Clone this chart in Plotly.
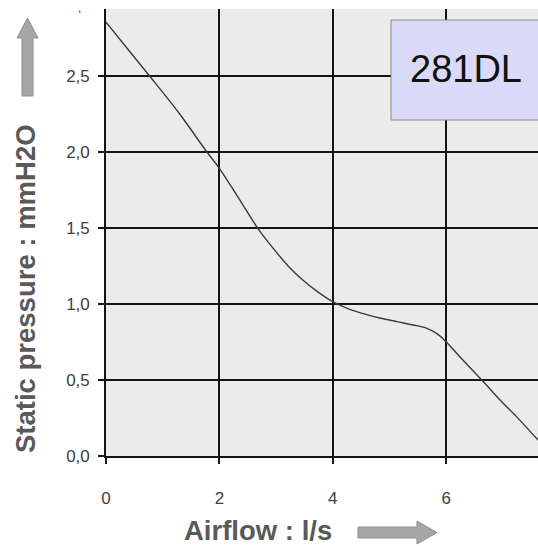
import plotly.graph_objects as go

# ---- data ----
airflow = [0, 0.4, 0.78, 1.3, 1.78, 2.0, 2.35, 2.69, 2.95, 3.25, 3.45, 3.7, 4.0, 4.3,
           4.6, 4.83, 5.13, 5.42, 5.66, 5.83, 6.0, 6.24, 6.63, 6.95, 7.24, 7.62]
pressure = [2.855, 2.67, 2.495, 2.25, 2.0, 1.893, 1.69, 1.491, 1.366, 1.235, 1.165, 1.09,
            1.015, 0.965, 0.93, 0.908, 0.884, 0.862, 0.840, 0.807, 0.752, 0.653, 0.5,
            0.368, 0.259, 0.105]
x_ticks = [0, 2, 4, 6]
y_ticks = [0, 0.5, 1.0, 1.5, 2.0, 2.5]
model_label = "281DL"
x_title = "Airflow : l/s"
y_title = "Static pressure : mmH2O"

W, H = 538, 546
L, R, T, B = 106, 0, 9, 90
PW, PH = W - L - R, H - T - B


def px(x):
    return (x - L) / PW


def py(y):
    return (H - B - y) / PH


fig = go.Figure()
fig.add_trace(go.Scatter(x=airflow, y=pressure, mode="lines",
                         line=dict(color="#3a3a3a", width=1.4, shape="spline", smoothing=0.9),
                         hoverinfo="skip", showlegend=False))

tickfont = dict(family="Liberation Sans, Arial, sans-serif", size=17, color="#404040")
grid = "#141414"
gw = 1.6

fig.update_layout(
    width=W, height=H,
    margin=dict(l=L, r=R, t=T, b=B, pad=0),
    paper_bgcolor="white", plot_bgcolor="#ebebeb",
    separators=",.",
    xaxis=dict(range=[0, 7.62], tickvals=x_ticks, showgrid=True, gridcolor=grid, gridwidth=gw,
               zeroline=False, showline=True, linecolor=grid, linewidth=gw,
               ticks="outside", ticklen=6, tickcolor=grid, tickwidth=gw,
               tickfont=tickfont, ticklabelstandoff=20),
    yaxis=dict(range=[0, 2.941], tickvals=y_ticks, tickformat=".1f", showgrid=True,
               gridcolor=grid, gridwidth=gw, zeroline=False, showline=True, linecolor=grid,
               linewidth=gw, ticks="outside", ticklen=6, tickcolor=grid, tickwidth=gw,
               tickfont=tickfont, ticklabelstandoff=5),
)

title_font = dict(family="Liberation Sans, Arial, sans-serif", size=27.5, color="#595959")

# model box
fig.add_shape(type="rect", xref="paper", yref="paper",
              x0=px(391), x1=px(560), y0=py(120), y1=py(20),
              fillcolor="#dadaf8", line=dict(color="#8a8a8a", width=1))
fig.add_annotation(xref="paper", yref="paper", x=px(466), y=py(69), text=model_label,
                   showarrow=False, xanchor="center", yanchor="middle",
                   font=dict(family="Liberation Sans, Arial", size=38, color="#111111"))

# axis titles
fig.add_annotation(xref="paper", yref="paper", x=px(258), y=py(530), text="<b>%s</b>" % x_title,
                   showarrow=False, xanchor="center", yanchor="middle", font=title_font)
fig.add_annotation(xref="paper", yref="paper", x=px(25), y=py(289), text="<b>%s</b>" % y_title,
                   showarrow=False, xanchor="center", yanchor="middle", textangle=-90,
                   font=title_font)

# clipped top tick-label remnant
fig.add_annotation(xref="paper", yref="paper", x=px(79), y=py(-1), text=",",
                   showarrow=False, xanchor="center", yanchor="top",
                   font=dict(family="Liberation Sans, Arial", size=12, color="#404040"))


def path(points):
    s = "M " + " L ".join("%f,%f" % (px(a), py(b)) for a, b in points) + " Z"
    return s


up_arrow = [(22, 96), (22, 38), (17, 38), (27.5, 18), (38, 38), (33, 38), (33, 96)]
right_arrow = [(358, 527), (417, 527), (417, 521), (437, 532.5), (417, 544), (417, 538), (358, 538)]
for pts in (up_arrow, right_arrow):
    fig.add_shape(type="path", xref="paper", yref="paper", path=path(pts),
                  fillcolor="#a6a6a6", line=dict(color="#8f8f8f", width=1))

fig.write_html("out.html", config={"displayModeBar": False},
               post_script="document.body.style.margin='0';document.body.style.overflow='hidden';")
